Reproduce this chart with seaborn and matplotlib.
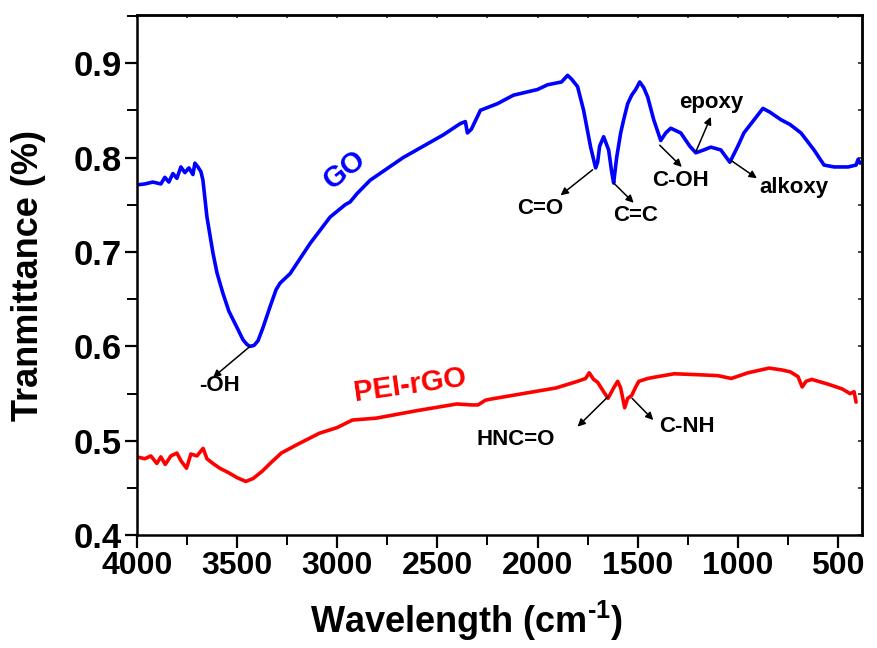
import matplotlib
matplotlib.use("Agg")
import matplotlib.pyplot as plt
import seaborn as sns
from matplotlib.ticker import MultipleLocator

# ---- data ----
go_wn = [4000, 3960, 3920, 3880, 3860, 3840, 3820, 3800, 3780, 3760, 3740, 3720, 3710, 3695,
         3680, 3670, 3650, 3620, 3600, 3570, 3540, 3500, 3470, 3450, 3435, 3415, 3395, 3370,
         3335, 3305, 3285, 3235, 3135, 3035, 2960, 2935, 2900, 2835, 2670, 2470, 2385, 2360,
         2350, 2330, 2285, 2200, 2120, 2000, 1950, 1880, 1850, 1830, 1800, 1770, 1735, 1710,
         1700, 1690, 1670, 1645, 1630, 1620, 1605, 1585, 1570, 1550, 1530, 1510, 1490, 1470,
         1450, 1420, 1385, 1360, 1335, 1285, 1240, 1210, 1170, 1135, 1085, 1040, 1000, 970,
         875, 840, 785, 740, 685, 620, 570, 520, 450, 410, 400, 390]
go_t = [0.771, 0.772, 0.774, 0.772, 0.779, 0.774, 0.783, 0.778, 0.790, 0.784, 0.789, 0.782,
        0.794, 0.790, 0.785, 0.776, 0.737, 0.699, 0.678, 0.656, 0.637, 0.620, 0.607, 0.602,
        0.600, 0.601, 0.606, 0.620, 0.642, 0.660, 0.667, 0.677, 0.709, 0.737, 0.750, 0.753,
        0.762, 0.776, 0.800, 0.824, 0.836, 0.838, 0.826, 0.830, 0.850, 0.857, 0.866, 0.872,
        0.877, 0.880, 0.887, 0.883, 0.875, 0.850, 0.811, 0.789, 0.795, 0.812, 0.822, 0.808,
        0.785, 0.773, 0.800, 0.826, 0.840, 0.857, 0.866, 0.872, 0.880, 0.874, 0.864, 0.840,
        0.818, 0.826, 0.831, 0.826, 0.812, 0.805, 0.808, 0.811, 0.808, 0.795, 0.812, 0.826,
        0.852, 0.848, 0.840, 0.835, 0.826, 0.808, 0.792, 0.790, 0.790, 0.792, 0.798, 0.794]

rgo_wn = [4000, 3960, 3930, 3900, 3880, 3858, 3830, 3800, 3780, 3752, 3730, 3700, 3669, 3650,
          3620, 3586, 3540, 3500, 3456, 3420, 3373, 3330, 3279, 3200, 3089, 3000, 2924, 2805,
          2600, 2403, 2330, 2297, 2260, 2238, 2100, 1907, 1800, 1760, 1742, 1720, 1700, 1670,
          1648, 1620, 1600, 1585, 1565, 1550, 1530, 1510, 1494, 1450, 1400, 1317, 1200, 1100,
          1033, 950, 844, 780, 738, 700, 679, 660, 631, 550, 480, 440, 420, 410]
rgo_t = [0.483, 0.481, 0.484, 0.476, 0.483, 0.475, 0.484, 0.487, 0.479, 0.471, 0.486, 0.484,
         0.492, 0.481, 0.476, 0.471, 0.466, 0.461, 0.457, 0.460, 0.468, 0.477, 0.487, 0.496,
         0.508, 0.514, 0.522, 0.524, 0.532, 0.539, 0.538, 0.538, 0.543, 0.544, 0.549, 0.556,
         0.563, 0.566, 0.572, 0.565, 0.562, 0.552, 0.545, 0.556, 0.563, 0.556, 0.535, 0.545,
         0.548, 0.557, 0.563, 0.566, 0.568, 0.571, 0.570, 0.569, 0.566, 0.572, 0.577, 0.575,
         0.573, 0.568, 0.557, 0.563, 0.565, 0.560, 0.555, 0.550, 0.552, 0.541]

x_ticks = [4000, 3500, 3000, 2500, 2000, 1500, 1000, 500]
y_ticks = [0.4, 0.5, 0.6, 0.7, 0.8, 0.9]

# ---- style ----
sns.set_theme(style="ticks")
plt.rcParams['font.family'] = ['Liberation Sans', 'DejaVu Sans']
plt.rcParams['font.weight'] = 'bold'
plt.rcParams['text.color'] = 'black'
plt.rcParams['axes.labelcolor'] = 'black'
plt.rcParams['mathtext.fontset'] = 'custom'
plt.rcParams['mathtext.rm'] = 'Liberation Sans:bold'
plt.rcParams['mathtext.bf'] = 'Liberation Sans:bold'

fig = plt.figure(figsize=(8.77, 6.48), dpi=100)
ax = fig.add_axes([0.156, 0.174, 0.827, 0.803])

sns.lineplot(x=go_wn, y=go_t, ax=ax, color='#0000ff', lw=2.6, sort=False)
sns.lineplot(x=rgo_wn, y=rgo_t, ax=ax, color='#ff0000', lw=2.6, sort=False)

ax.set_xlim(4000, 380)
ax.set_ylim(0.4, 0.951)
ax.set_xticks(x_ticks)
ax.set_yticks(y_ticks)
ax.set_xticklabels([str(v) for v in x_ticks])
ax.set_yticklabels([f"{v:.1f}" for v in y_ticks])
ax.xaxis.set_minor_locator(MultipleLocator(250))
ax.yaxis.set_minor_locator(MultipleLocator(0.05))

for s in ax.spines.values():
    s.set_linewidth(1.8)
    s.set_color('black')

ax.tick_params(axis='both', which='major', direction='out', length=9, width=1.6,
               colors='black', pad=2)
ax.tick_params(axis='x', which='major', labelsize=23)
ax.tick_params(axis='y', which='major', labelsize=25)
ax.tick_params(axis='both', which='minor', direction='out', length=7, width=1.4, colors='black')
for lab in ax.get_xticklabels() + ax.get_yticklabels():
    lab.set_fontweight('bold')
    lab.set_color('black')

# small inward ticks on the top and right
sec_x = ax.secondary_xaxis('top')
sec_x.set_xticks(x_ticks)
sec_x.xaxis.set_minor_locator(MultipleLocator(250))
sec_x.tick_params(which='both', direction='in', length=2, width=1.2, labeltop=False)
sec_x.spines['top'].set_linewidth(1.8)
sec_y = ax.secondary_yaxis('right')
sec_y.set_yticks(y_ticks)
sec_y.yaxis.set_minor_locator(MultipleLocator(0.05))
sec_y.tick_params(which='both', direction='in', length=3, width=1.2, labelright=False)
sec_y.spines['right'].set_linewidth(1.8)

ax.set_xlabel(r'Wavelength (cm$^{\text{-1}}$)', fontsize=26, fontweight='bold', color='black')
ax.set_ylabel('Tranmittance (%)', fontsize=26, fontweight='bold', color='black')
ax.xaxis.set_label_coords(0.455, -0.122)
ax.yaxis.set_label_coords(-0.125, 0.5)

# ---- labels ----
ax.text(2960, 0.787, 'GO', color='#0000ff', fontsize=21, fontweight='bold',
        rotation=38, ha='center', va='center')
ax.text(2635, 0.559, 'PEI-rGO', color='#ff0000', fontsize=21, fontweight='bold',
        rotation=8, ha='center', va='center')

arr = dict(arrowstyle='-|>', color='black', lw=1.1, mutation_scale=11, shrinkA=0, shrinkB=0)
annots = [
    ('-OH', (3435, 0.600), (3620, 0.567), (3585, 0.559)),
    ('C=O', (1725, 0.787), (1885, 0.760), (1985, 0.746)),
    ('C=C', (1620, 0.773), (1520, 0.752), (1510, 0.739)),
    ('C-OH', (1390, 0.813), (1280, 0.790), (1285, 0.776)),
    ('epoxy', (1210, 0.806), (1135, 0.843), (1135, 0.858)),
    ('alkoxy', (1035, 0.797), (905, 0.778), (720, 0.768)),
    ('HNC=O', (1647, 0.547), (1800, 0.515), (2108, 0.501)),
    ('C-NH', (1528, 0.545), (1422, 0.522), (1256, 0.515)),
]
for label, start, end, tpos in annots:
    ax.annotate('', xy=end, xytext=start, arrowprops=arr)
    ax.text(tpos[0], tpos[1], label, fontsize=16, fontweight='bold', color='black',
            ha='center', va='center')

fig.savefig('out.png', dpi=100)
